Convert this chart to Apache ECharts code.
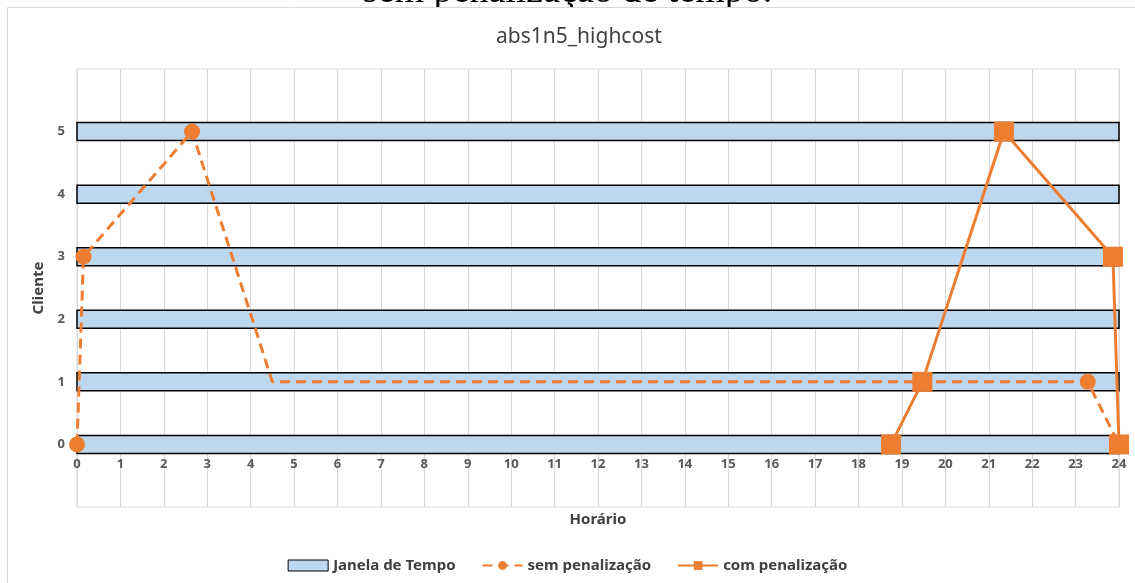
<!DOCTYPE html>
<html>
<head>
<meta charset="utf-8">
<script src="https://cdn.jsdelivr.net/npm/echarts@6/dist/echarts.min.js"></script>
<style>
html,body{margin:0;padding:0;background:#fff;}
#chart{width:1135px;height:583px;}
</style>
</head>
<body>
<div id="chart"></div>
<script>
// janelas de tempo por cliente
var clientes = [0, 1, 2, 3, 4, 5];
var janelaInicio = [0, 0, 0, 0, 0, 0];
var janelaFim = [24, 24, 24, 24, 24, 24];

// rota sem penalização (horário, cliente)
var semHorario = [0, 0.15, 2.65, 4.5, 23.28, 24];
var semCliente = [0, 3, 5, 1, 1, 0];
var semMarcador = [true, true, true, false, true, true];

// rota com penalização
var comHorario = [18.75, 19.47, 21.35, 23.86, 24];
var comCliente = [0, 1, 5, 3, 0];

var xTicks = [];
for (var i = 0; i <= 24; i++) xTicks.push(i);

var laranja = '#ED7D31';
var azul = '#BDD7EE';

var janelaData = [];
for (var i = 0; i < clientes.length; i++) {
	janelaData.push([janelaInicio[i], janelaFim[i], clientes[i]]);
}
var semData = [];
for (var i = 0; i < semHorario.length; i++) {
	var p = {value: [semHorario[i], semCliente[i]]};
	if (!semMarcador[i]) p.symbol = 'none';
	semData.push(p);
}
var comData = [];
for (var i = 0; i < comHorario.length; i++) {
	comData.push([comHorario[i], comCliente[i]]);
}

var myChart = echarts.init(document.getElementById('chart'));
var option = {
	animation: false,
	textStyle: {fontFamily: 'Noto Sans'},
	title: {
		text: 'abs1n5_highcost',
		left: 491,
		top: 22,
		textStyle: {fontFamily: 'Noto Sans', fontSize: 21, fontWeight: 'normal', color: '#404040'}
	},
	graphic: [
		{
			type: 'text',
			left: 'center',
			top: -27,
			z: -2,
			style: {text: 'sem penalização de tempo.', font: '38px "Liberation Serif"', fill: '#000'}
		},
		{
			type: 'rect',
			z: -1,
			shape: {x: 7.5, y: 7.5, width: 1140, height: 590},
			style: {fill: '#fff', stroke: '#d9d9d9', lineWidth: 1},
			silent: true
		}
	],
	grid: {
		left: 77, right: 16, top: 69, bottom: 76,
		outerBoundsMode: 'none',
		containLabel: false,
		show: true, borderColor: '#d9d9d9', borderWidth: 1
	},
	legend: {
		bottom: 5,
		left: 'center',
		itemWidth: 40,
		itemHeight: 11,
		itemGap: 26,
		textStyle: {fontFamily: 'Noto Sans', fontSize: 15, fontWeight: 'bold', color: '#404040'},
		data: [
			{name: 'Janela de Tempo', icon: 'rect', itemStyle: {color: azul, borderColor: '#000', borderWidth: 1}},
			{name: 'sem penalização'},
			{name: 'com penalização'}
		]
	},
	xAxis: {
		type: 'value',
		min: 0, max: 24, interval: 1,
		name: 'Horário',
		nameLocation: 'middle',
		nameGap: 5,
		nameTextStyle: {fontSize: 15, fontWeight: 'bold', color: '#404040'},
		axisLine: {show: false},
		axisTick: {show: false},
		axisLabel: {
			margin: -49, fontSize: 13, fontWeight: 'bold', color: '#595959',
			formatter: function (v) { return xTicks.indexOf(v) >= 0 ? String(v) : ''; }
		},
		splitLine: {show: true, lineStyle: {color: '#d9d9d9', width: 1}}
	},
	yAxis: {
		type: 'value',
		min: -1, max: 6, interval: 1,
		name: 'Cliente',
		nameLocation: 'middle',
		nameGap: 31,
		nameTextStyle: {fontSize: 15, fontWeight: 'bold', color: '#404040'},
		axisLine: {show: false},
		axisTick: {show: false},
		axisLabel: {
			margin: 12, fontSize: 13, fontWeight: 'bold', color: '#595959',
			formatter: function (v) { return clientes.indexOf(v) >= 0 ? String(v) : ''; }
		},
		splitLine: {show: false}
	},
	series: [
		{
			name: 'Janela de Tempo',
			type: 'custom',
			data: janelaData,
			itemStyle: {color: azul, borderColor: '#000', borderWidth: 1},
			renderItem: function (params, api) {
				var a = api.coord([api.value(0), api.value(2)]);
				var b = api.coord([api.value(1), api.value(2)]);
				var h = 18;
				return {
					type: 'rect',
					shape: {x: a[0], y: a[1] - h / 2, width: b[0] - a[0], height: h},
					style: {fill: azul, stroke: '#000', lineWidth: 1.5}
				};
			},
			z: 1
		},
		{
			name: 'sem penalização',
			type: 'line',
			data: semData,
			symbol: 'circle',
			symbolSize: 16,
			itemStyle: {color: laranja},
			lineStyle: {color: laranja, width: 3, type: [10, 6]},
			z: 3
		},
		{
			name: 'com penalização',
			type: 'line',
			data: comData,
			symbol: 'rect',
			symbolSize: 20,
			itemStyle: {color: laranja},
			lineStyle: {color: laranja, width: 3},
			z: 4
		}
	]
};
myChart.setOption(option);
</script>
</body>
</html>
